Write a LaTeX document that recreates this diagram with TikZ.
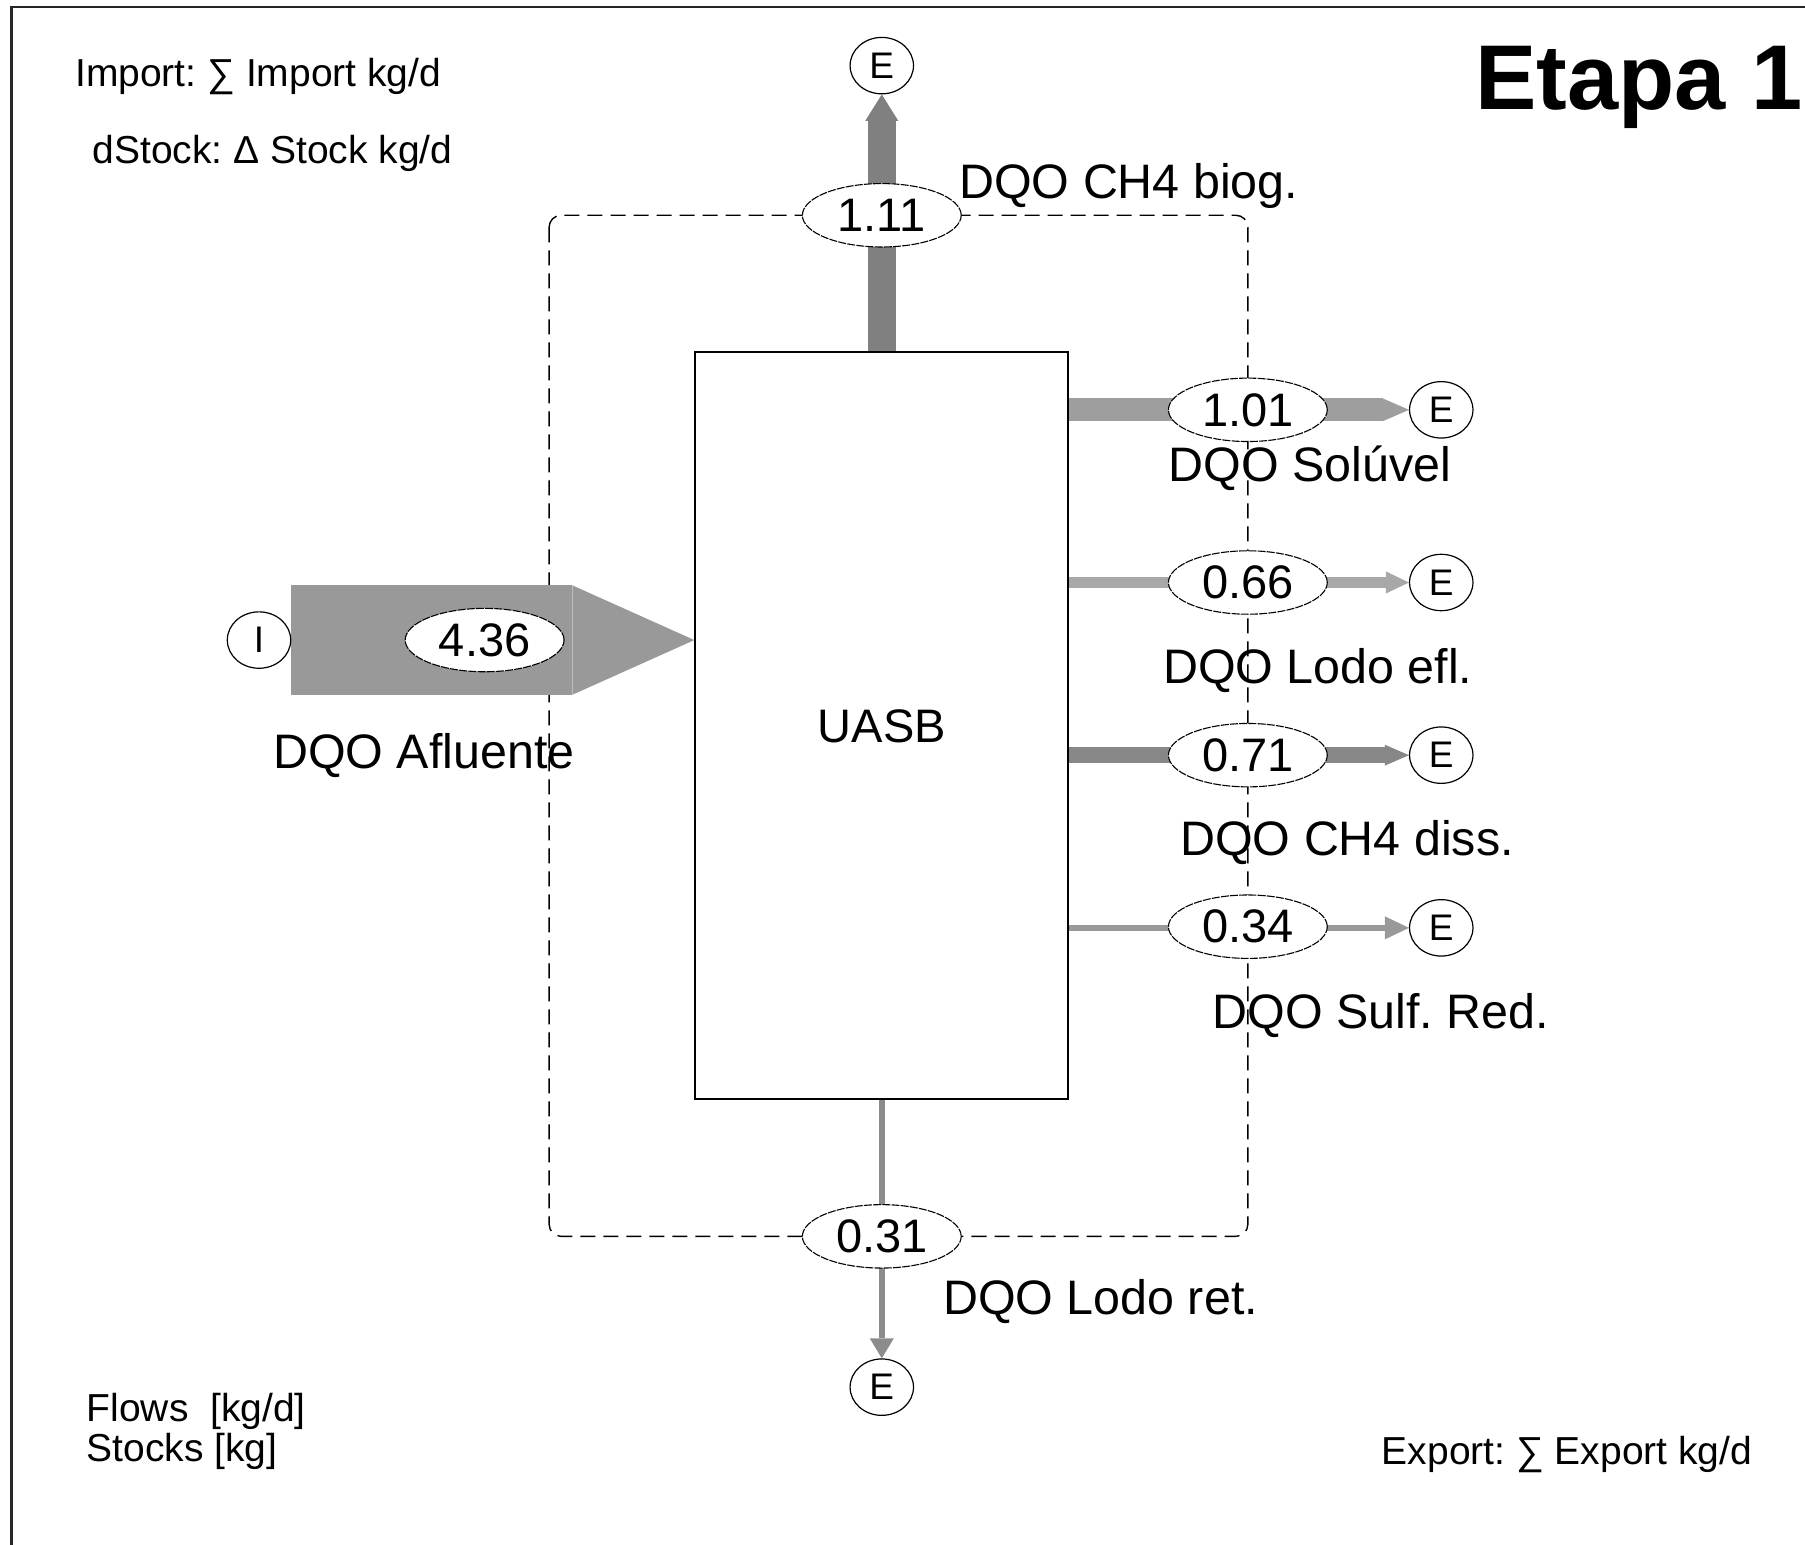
\documentclass[tikz,border=0pt]{standalone}
\usepackage{fontspec}
\setmainfont{Liberation Sans}
\usetikzlibrary{shapes.geometric,arrows.meta}
\pgfdeclarelayer{bg}
\pgfsetlayers{bg,main}
\frenchspacing
\definecolor{fbiog}{gray}{0.50}
\definecolor{fafl}{gray}{0.60}
\definecolor{fsol}{gray}{0.62}
\definecolor{flodo}{gray}{0.66}
\definecolor{fdiss}{gray}{0.53}
\definecolor{fsulf}{gray}{0.60}
\definecolor{fret}{gray}{0.55}
\tikzset{
  eterm/.style={ellipse, draw, line width=0.6pt, fill=white, minimum width=31.7pt, minimum height=28.2pt, inner sep=0pt, font=\fontsize{18.5pt}{20pt}\selectfont},
  val/.style={ellipse, draw, line width=0.55pt, dash pattern=on 4pt off 0.6pt, fill=white, minimum width=79.4pt, minimum height=31.7pt, inner sep=0pt, font=\fontsize{23.5pt}{26pt}\selectfont},
  lbl/.style={anchor=base west, inner sep=0pt, font=\fontsize{24.2pt}{27pt}\selectfont},
  note/.style={anchor=base west, inner sep=0pt, font=\fontsize{19.5pt}{22pt}\selectfont},
  process/.style={draw, line width=0.9pt, fill=white, minimum width=186.5pt, minimum height=373.5pt, inner sep=0pt, font=\fontsize{23.5pt}{26pt}\selectfont},
  flowline/.style n args={4}{draw=#1, line width=#2, -{Triangle[length=#3, width=#4, line width=0pt]}},
  sysbound/.style={dash pattern=on 7.5pt off 4pt, line width=0.7pt, rounded corners=6pt},
  frameline/.style={line width=1.2pt, black!85},
}
\begin{document}
\begin{tikzpicture}[x=0.5755pt, y=-0.5755pt]
\useasboundingbox (0,0) rectangle (1568,1342);

% process and terminals
\node[process] (uasb) at (766,630.5) {UASB};
\node[eterm] (Etop) at (766,57) {E};
\node[val] (v111) at (766,187) {1.11};
\node[eterm] (I) at (225,556) {I};
\node[val] (v436) at (421,556) {4.36};
\node[eterm] (E1) at (1252,356) {E};
\node[val] (v101) at (1084,356) {1.01};
\node[eterm] (E2) at (1252,506) {E};
\node[val] (v066) at (1084,506) {0.66};
\node[eterm] (E3) at (1252,656) {E};
\node[val] (v071) at (1084,656) {0.71};
\node[eterm] (E4) at (1252,806) {E};
\node[val] (v034) at (1084,805) {0.34};
\node[eterm] (Ebot) at (766,1205) {E};
\node[val] (v031) at (766,1074) {0.31};

% flow labels
\node[lbl] (l111) at (833,172) {DQO CH4 biog.};
\node[lbl] (l436) at (237,668) {DQO Afluente};
\node[lbl] (l101) at (1015,418) {DQO Solúvel};
\node[lbl] (l066) at (1010,594) {DQO Lodo efl.};
\node[lbl] (l071) at (1025,743) {DQO CH4 diss.};
\node[lbl] (l034) at (1053,893) {DQO Sulf. Red.};
\node[lbl] (l031) at (819,1142) {DQO Lodo ret.};

% notes
\node[note] (imp) at (65,75) {Import: ∑ Import kg/d};
\node[note] (dst) at (80,142) {dStock: Δ Stock kg/d};
\node[note] (flw) at (75,1235) {Flows\ \ [kg/d]};
\node[note] (stk) at (75,1270) {Stocks [kg]};
\node[note] (exp) at (1200,1272) {Export: ∑ Export kg/d};
\node[anchor=base west, inner sep=0pt, font=\fontsize{46pt}{50pt}\selectfont\bfseries] (title) at (1281,95) {Etapa 1};

\begin{pgfonlayer}{bg}
\fill[white] (0,0) rectangle (1568,1342);
\draw[frameline] (10,1342) -- (10,6) -- (1568,6);
\draw[sysbound] (477,187) rectangle (1084,1074);
\draw[flowline={fbiog}{13.8pt}{13.2pt}{16.5pt}] (uasb.north) -- (Etop.south);
\draw[flowline={fafl}{54.7pt}{61pt}{54.7pt}] (I.east) -- (uasb.west |- I);
\draw[flowline={fsol}{11.5pt}{13.2pt}{11.5pt}] (uasb.east |- E1) -- (E1.west);
\draw[flowline={flodo}{5.8pt}{11.5pt}{11pt}] (uasb.east |- E2) -- (E2.west);
\draw[flowline={fdiss}{8.3pt}{12pt}{10.4pt}] (uasb.east |- E3) -- (E3.west);
\draw[flowline={fsulf}{2.9pt}{12pt}{11.5pt}] (uasb.east |- E4) -- (E4.west);
\draw[flowline={fret}{3.2pt}{10pt}{12pt}] (uasb.south) -- (Ebot.north);
\end{pgfonlayer}
\end{tikzpicture}
\end{document}
